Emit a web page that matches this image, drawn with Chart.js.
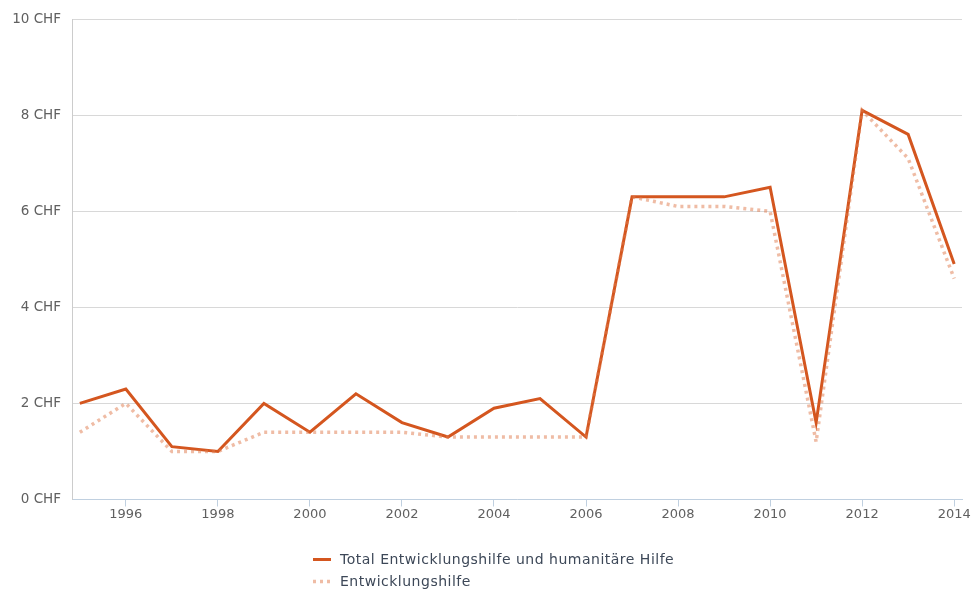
<!DOCTYPE html>
<html>
<head>
<meta charset="utf-8">
<script src="https://cdn.jsdelivr.net/npm/chart.js@4.4.1/dist/chart.umd.min.js"></script>
<style>
    html, body { margin: 0; padding: 0; background: #fff; }
    #wrap { width: 977px; height: 591px; position: relative; }
</style>
</head>
<body>
<div id="wrap"><canvas id="chart"></canvas></div>
<script>
// Yearly aid amounts in CHF, 1995–2014
const years = [1995, 1996, 1997, 1998, 1999, 2000, 2001, 2002, 2003, 2004,
    2005, 2006, 2007, 2008, 2009, 2010, 2011, 2012, 2013, 2014];
const totalAid = [2.0, 2.3, 1.1, 1.0, 2.0, 1.4, 2.2, 1.6, 1.3, 1.9,
    2.1, 1.3, 6.3, 6.3, 6.3, 6.5, 1.6, 8.1, 7.6, 4.9];
const developmentAid = [1.4, 2.0, 1.0, 1.0, 1.4, 1.4, 1.4, 1.4, 1.3, 1.3,
    1.3, 1.3, 6.3, 6.1, 6.1, 6.0, 1.2, 8.1, 7.1, 4.6];
const xTickYears = [1996, 1998, 2000, 2002, 2004, 2006, 2008, 2010, 2012, 2014];
const yTicks = [0, 2, 4, 6, 8, 10];

const seriesNames = ['Total Entwicklungshilfe und humanitäre Hilfe', 'Entwicklungshilfe'];
const solidColor = '#d4561f';
const dotColor = 'rgba(224, 122, 76, 0.5)';

const FONT = '"DejaVu Sans", sans-serif';

function toPoints(values) {
    return years.map((y, i) => ({ x: y, y: values[i] }));
}

// Two-row legend under the plot, left aligned as a block
const stackedLegend = {
    id: 'stackedLegend',
    afterDraw(chart) {
        const ctx = chart.ctx;
        const left = 313;
        const rows = [559, 581];
        ctx.save();
        ctx.font = '14px ' + FONT;
        ctx.letterSpacing = '0.5px';
        ctx.textBaseline = 'middle';
        ctx.textAlign = 'left';
        chart.data.datasets.slice().sort((a, b) => a.legendIndex - b.legendIndex).forEach((ds, i) => {
            const y = rows[i];
            ctx.beginPath();
            ctx.strokeStyle = ds.borderColor;
            ctx.lineWidth = ds.borderWidth;
            ctx.setLineDash(ds.borderDash || []);
            ctx.moveTo(left, y + 0.5);
            ctx.lineTo(left + 18, y + 0.5);
            ctx.stroke();
            ctx.setLineDash([]);
            ctx.fillStyle = '#3d4858';
            ctx.fillText(ds.label, left + 27, y + 1);
        });
        ctx.restore();
    }
};

new Chart(document.getElementById('chart'), {
    type: 'line',
    data: {
        datasets: [
            {
                label: seriesNames[0],
                legendIndex: 0,
                data: toPoints(totalAid),
                borderColor: solidColor,
                borderWidth: 3,
                pointRadius: 0,
                tension: 0,
                order: 1
            },
            {
                label: seriesNames[1],
                legendIndex: 1,
                data: toPoints(developmentAid),
                borderColor: dotColor,
                borderWidth: 3.5,
                borderDash: [3, 4],
                pointRadius: 0,
                tension: 0,
                order: 0
            }
        ]
    },
    options: {
        responsive: true,
        maintainAspectRatio: false,
        animation: false,
        layout: { padding: { top: 17, right: 15, left: 0, bottom: 0 } },
        plugins: {
            legend: { display: false },
            tooltip: { enabled: false }
        },
        scales: {
            x: {
                type: 'linear',
                min: 1994.83,
                max: 2014.17,
                afterBuildTicks(scale) {
                    scale.ticks = xTickYears.map((v) => ({ value: v }));
                },
                afterFit(scale) {
                    scale.height = 91.5;
                },
                ticks: {
                    color: '#606060',
                    font: { family: FONT, size: 13 },
                    padding: 0,
                    maxRotation: 0,
                    autoSkip: false,
                    callback(v) { return String(v); }
                },
                grid: {
                    drawOnChartArea: false,
                    drawTicks: true,
                    tickLength: 7,
                    color: '#c0d0e0'
                },
                border: { color: '#c0d0e0', width: 1 }
            },
            y: {
                min: 0,
                max: 10,
                afterBuildTicks(scale) {
                    scale.ticks = yTicks.map((v) => ({ value: v }));
                },
                afterFit(scale) {
                    scale.width = 72;
                },
                ticks: {
                    color: '#606060',
                    font: { family: FONT, size: 13.5 },
                    padding: 11,
                    callback(v) { return v + ' CHF'; }
                },
                grid: {
                    color: '#d8d8d8',
                    drawTicks: false
                },
                border: { color: '#cccccc', width: 1 }
            }
        }
    },
    plugins: [stackedLegend]
});
</script>
</body>
</html>
